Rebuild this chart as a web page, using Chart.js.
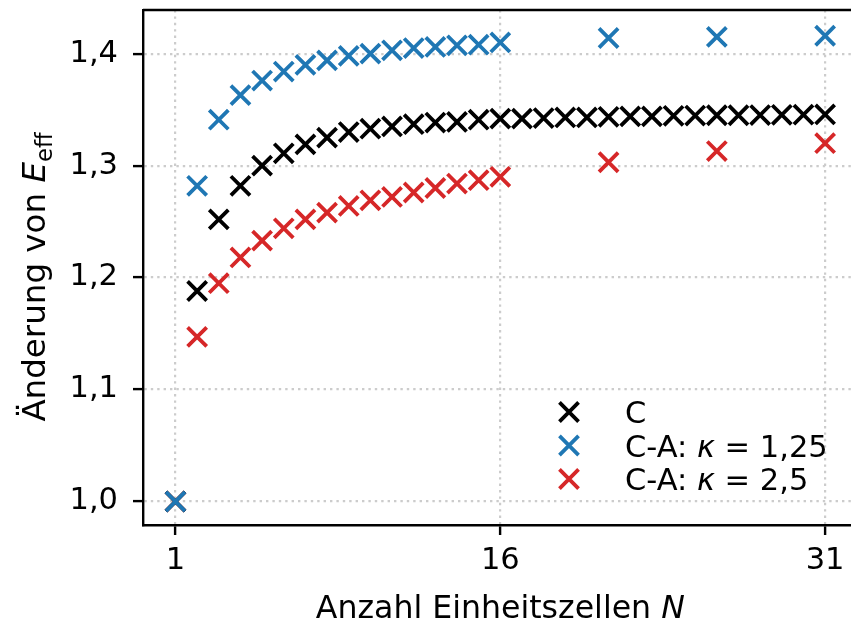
<!DOCTYPE html>
<html>
<head>
<meta charset="utf-8">
<script src="https://cdn.jsdelivr.net/npm/chart.js@4.4.1/dist/chart.umd.min.js"></script>
<style>
  html, body { margin: 0; padding: 0; background: #fff; overflow: hidden; }
  #wrap { width: 851px; height: 625px; overflow: hidden; position: relative; }
  canvas { display: block; }
</style>
</head>
<body>
<div id="wrap"><canvas id="c" width="870" height="625"></canvas></div>
<script>
// Number of unit cells N
const cellsC = [1, 2, 3, 4, 5, 6, 7, 8, 9, 10, 11, 12, 13, 14, 15, 16,
                17, 18, 19, 20, 21, 22, 23, 24, 25, 26, 27, 28, 29, 30, 31];
const cellsCA = [1, 2, 3, 4, 5, 6, 7, 8, 9, 10, 11, 12, 13, 14, 15, 16, 21, 26, 31];

// Relative change of E_eff
const changeC = [1.000, 1.188, 1.252, 1.282, 1.300, 1.311, 1.319, 1.325, 1.330, 1.333,
                 1.335, 1.337, 1.3385, 1.339, 1.341, 1.342, 1.342, 1.3425, 1.343, 1.343,
                 1.3436, 1.344, 1.344, 1.3445, 1.3447, 1.345, 1.345, 1.3452, 1.3454, 1.3455, 1.3457];
const changeK125 = [1.000, 1.282, 1.341, 1.363, 1.376, 1.384, 1.390, 1.394, 1.398, 1.400,
                    1.403, 1.405, 1.406, 1.4075, 1.408, 1.410, 1.414, 1.415, 1.416];
const changeK25 = [1.000, 1.147, 1.195, 1.218, 1.233, 1.244, 1.252, 1.258, 1.264, 1.269,
                   1.272, 1.276, 1.280, 1.284, 1.287, 1.290, 1.303, 1.313, 1.320];

const xTicks = [1, 16, 31];
const yTicks = [1.0, 1.1, 1.2, 1.3, 1.4];

const FONT = 'DejaVu Sans';
const FS_TICK = 30.5;
const FS_TITLE = 31.6;
const FS_YTITLE = 32.5;
const FS_LEG = 30.5;
const BLACK = '#000000', BLUE = '#1f77b4', RED = '#d62728';
const MARK_R = 13.5, MARK_W = 3.8;

function pts(xs, ys) { return xs.map((x, i) => ({ x: x, y: ys[i] })); }

const seriesStyle = { pointStyle: 'crossRot', pointRadius: MARK_R, pointHoverRadius: MARK_R,
                      pointBorderWidth: MARK_W, showLine: false };

const legendItems = [
  { color: BLACK, parts: [['C', false]] },
  { color: BLUE, parts: [['C-A: ', false], ['\u03BA', true], [' = 1,25', false]] },
  { color: RED, parts: [['C-A: ', false], ['\u03BA', true], [' = 2,5', false]] }
];

// Closing spines, axis titles and the in-plot legend
const decorations = {
  id: 'decorations',
  afterDraw(chart) {
    const ctx = chart.ctx, a = chart.chartArea;
    ctx.save();
    ctx.strokeStyle = '#000';
    ctx.lineWidth = 2.4;
    ctx.beginPath();
    ctx.moveTo(a.left, a.top); ctx.lineTo(a.right, a.top); ctx.lineTo(a.right, a.bottom);
    ctx.stroke();

    ctx.fillStyle = '#000';
    ctx.textBaseline = 'alphabetic';
    const f = (s, it) => (it ? 'italic ' : '') + s + 'px "' + FONT + '"';

    function widthOf(parts) {
      let w = 0;
      parts.forEach(p => { ctx.font = p[1]; w += ctx.measureText(p[0]).width; });
      return w;
    }
    function drawParts(parts, x, y) {
      parts.forEach(p => {
        ctx.font = p[1];
        ctx.fillText(p[0], x, y + (p[2] || 0));
        x += ctx.measureText(p[0]).width;
      });
    }

    // x title
    const xParts = [['Anzahl Einheitszellen ', f(FS_TITLE)], ['N', f(FS_TITLE, true)]];
    const xw = widthOf(xParts);
    drawParts(xParts, (a.left + a.right) / 2 - xw / 2, 618);

    // y title, rotated
    const yParts = [['\u00C4nderung von ', f(FS_YTITLE)], ['E', f(FS_YTITLE, true)],
                    ['eff', f(FS_YTITLE * 0.7), 7]];
    const yw = widthOf(yParts);
    ctx.save();
    ctx.translate(45, 277);
    ctx.rotate(-Math.PI / 2);
    drawParts(yParts, -yw / 2, 0);
    ctx.restore();

    // legend
    const rowY = [412, 445.5, 479];
    legendItems.forEach((it, i) => {
      ctx.strokeStyle = it.color;
      ctx.fillStyle = it.color;
      ctx.lineWidth = MARK_W;
      Chart.helpers.drawPoint(ctx, { pointStyle: 'crossRot', radius: MARK_R,
        borderWidth: MARK_W }, 569, rowY[i]);
      ctx.fillStyle = '#000';
      drawParts(it.parts.map(p => [p[0], f(FS_LEG, p[1])]), 625, rowY[i] + 11);
    });
    ctx.restore();
  }
};

const gridStyle = {
  color: '#cccccc', lineWidth: 2.2,
  drawTicks: true, tickLength: 10, tickColor: '#000', tickWidth: 2.4, tickBorderDash: []
};
const borderStyle = { display: true, color: '#000', width: 2.4, dash: [2.4, 4] };

new Chart(document.getElementById('c'), {
  type: 'scatter',
  data: {
    datasets: [
      Object.assign({ label: 'C', data: pts(cellsC, changeC), borderColor: BLACK,
        backgroundColor: BLACK, order: 2 }, seriesStyle),
      Object.assign({ label: 'C-A: \u03BA = 1,25', data: pts(cellsCA, changeK125), borderColor: BLUE,
        backgroundColor: BLUE, order: 1 }, seriesStyle),
      Object.assign({ label: 'C-A: \u03BA = 2,5', data: pts(cellsCA, changeK25), borderColor: RED,
        backgroundColor: RED, order: 3 }, seriesStyle)
    ]
  },
  options: {
    responsive: false,
    animation: false,
    devicePixelRatio: 1,
    events: [],
    layout: { autoPadding: false, padding: { left: 0, top: 10, right: 12.4, bottom: 0 } },
    plugins: { legend: { display: false }, tooltip: { enabled: false } },
    scales: {
      x: {
        type: 'linear', min: -0.5, max: 32.5,
        afterFit: s => { s.height = 100; s.paddingLeft = 0; s.paddingRight = 0; },
        afterBuildTicks: s => { s.ticks = xTicks.map(v => ({ value: v })); },
        ticks: { color: '#000', font: { family: FONT, size: FS_TICK }, padding: 8,
                 maxRotation: 0, autoSkip: false, callback: v => String(v) },
        grid: gridStyle,
        border: borderStyle
      },
      y: {
        type: 'linear', min: 0.979, max: 1.439,
        afterFit: s => { s.width = 143; s.paddingTop = 0; s.paddingBottom = 0; },
        afterBuildTicks: s => { s.ticks = yTicks.map(v => ({ value: v })); },
        ticks: { color: '#000', font: { family: FONT, size: FS_TICK }, padding: 15,
                 autoSkip: false, callback: v => v.toFixed(1).replace('.', ',') },
        grid: gridStyle,
        border: borderStyle
      }
    }
  },
  plugins: [decorations]
});
</script>
</body>
</html>
